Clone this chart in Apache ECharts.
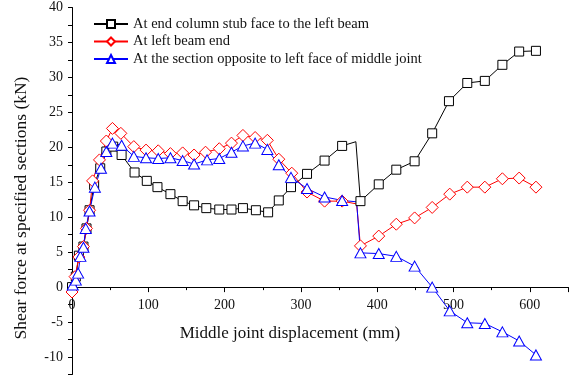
<!DOCTYPE html>
<html>
<head>
<meta charset="utf-8">
<script src="https://cdn.jsdelivr.net/npm/echarts@6/dist/echarts.min.js"></script>
<style>
  html, body { margin: 0; padding: 0; background: #fff; }
  #chart { width: 569px; height: 375px; }
</style>
</head>
<body>
<div id="chart"></div>
<script>
// series names
var names = [
  'At end column stub face to the left beam',
  'At left beam end',
  'At the section opposite to left face of middle joint'
];

// black squares
var xBlack = [0, 5, 9, 15, 19, 23, 29, 37, 45, 54, 65, 82, 98, 112, 129, 145, 160, 176, 193, 209, 224, 241, 257, 271, 287, 308, 331, 354, 372, 378, 402, 425, 449, 472, 494, 518, 541, 564, 586, 608];
var yBlack = [0, 1.5, 4.5, 5.8, 8.4, 11, 14.6, 17, 19.4, 20.1, 18.9, 16.4, 15.2, 14.3, 13.3, 12.3, 11.7, 11.3, 11.1, 11.1, 11.3, 11.0, 10.7, 12.4, 14.3, 16.2, 18.1, 20.2, 20.8, 12.3, 14.7, 16.8, 18.0, 22.0, 26.6, 29.2, 29.5, 31.8, 33.7, 33.8];
var cornerBlack = [372];

// red diamonds
var xRed = [0, 4, 9, 15, 19, 23, 27, 36, 45, 53, 64, 81, 97, 113, 129, 145, 160, 175, 193, 209, 224, 240, 256, 271, 288, 308, 331, 354, 373, 378, 402, 425, 449, 472, 495, 518, 541, 564, 586, 608];
var yRed = [-0.7, 1.5, 4.3, 5.8, 8.4, 11, 15.2, 18.2, 20.9, 22.7, 22, 20.1, 19.6, 19.5, 19.1, 19.2, 18.9, 19.3, 19.8, 20.6, 21.7, 21.4, 21, 18.3, 16.3, 13.6, 12.3, 12.3, 11.9, 5.9, 7.3, 9, 9.9, 11.4, 13.3, 14.3, 14.3, 15.5, 15.6, 14.3];
var cornerRed = [373];

// blue triangles
var xBlue = [0, 1, 5, 8, 11, 15, 18, 23, 30, 38, 45, 53, 65, 81, 97, 113, 129, 145, 160, 177, 193, 209, 224, 240, 256, 271, 287, 308, 331, 354, 373, 378, 402, 425, 449, 472, 495, 518, 541, 564, 586, 608];
var yBlue = [0, 0.3, 1, 2, 4.4, 5.7, 8.4, 10.9, 14.3, 17, 19.4, 20.6, 20.3, 18.7, 18.5, 18.4, 18.5, 18.1, 17.6, 18.2, 18.4, 19.3, 20.2, 20.6, 19.7, 17.5, 15.7, 14.1, 12.9, 12.4, 12.2, 4.9, 4.8, 4.4, 3.0, 0, -3.4, -5.1, -5.2, -6.4, -7.7, -9.7];
var cornerBlue = [0, 373];

function pairs(xs, ys, corners) {
  return xs.map(function (x, i) {
    var item = { value: [x, ys[i]] };
    if (corners.indexOf(x) >= 0) item.symbol = 'none';
    return item;
  });
}

var font = 'Liberation Serif';
var chart = echarts.init(document.getElementById('chart'));

// grid: y from -12.5 (bottom) to 40 (top); x axis drawn at y = 0
var gridTop = 7.5, gridBottom = 0.5, yMin = -12.5, yMax = 40;
var plotH = 375 - gridTop - gridBottom;
var zeroOffset = -plotH * (0 - yMin) / (yMax - yMin);

var option = {
  animation: false,
  textStyle: { fontFamily: font },
  grid: { left: 72, right: 1, top: gridTop, bottom: gridBottom, containLabel: false, outerBoundsMode: 'none' },
  legend: {
    orient: 'vertical',
    left: 93,
    top: 16.5,
    padding: 0,
    itemWidth: 34,
    itemHeight: 10,
    itemGap: 2.5,
    textStyle: { fontFamily: font, fontSize: 14.5, color: '#111' },
    data: names
  },
  xAxis: {
    type: 'value',
    position: 'bottom',
    offset: zeroOffset,
    min: 0,
    max: 650,
    interval: 100,
    name: 'Middle joint displacement (mm)',
    nameLocation: 'middle',
    nameGap: 38,
    nameTextStyle: { fontFamily: font, fontSize: 17, color: '#111', padding: [0, 60, 0, 0] },
    axisLine: { onZero: false, lineStyle: { color: '#000', width: 1 } },
    axisTick: { inside: false, length: 5, lineStyle: { color: '#000' } },
    minorTick: { show: true, splitNumber: 2, length: 3, lineStyle: { color: '#000' } },
    axisLabel: { fontFamily: font, fontSize: 14, color: '#111', margin: 11, showMaxLabel: false },
    splitLine: { show: false }
  },
  yAxis: {
    type: 'value',
    min: yMin,
    max: yMax,
    interval: 2.5,
    name: 'Shear force at specified sections (kN)',
    nameLocation: 'middle',
    nameGap: 42,
    nameTextStyle: { fontFamily: font, fontSize: 17.5, color: '#111', padding: [0, 34, 0, 0] },
    axisLine: { onZero: false, lineStyle: { color: '#000', width: 1 } },
    axisTick: { inside: false, length: 4, lineStyle: { color: '#000' } },
    axisLabel: {
      fontFamily: font, fontSize: 14, color: '#111', margin: 9,
      formatter: function (v) { return v % 5 === 0 ? String(v) : ''; }
    },
    splitLine: { show: false }
  },
  series: [
    {
      name: names[0],
      type: 'line',
      data: pairs(xBlack, yBlack, cornerBlack),
      symbol: 'rect',
      symbolSize: 9,
      lineStyle: { color: '#000', width: 1 },
      itemStyle: { color: '#fff', borderColor: '#000', borderWidth: 1 }
    },
    {
      name: names[1],
      type: 'line',
      data: pairs(xRed, yRed, cornerRed),
      symbol: 'diamond',
      symbolSize: 12,
      lineStyle: { color: '#ff0000', width: 1 },
      itemStyle: { color: '#fff', borderColor: '#ff0000', borderWidth: 1 }
    },
    {
      name: names[2],
      type: 'line',
      data: pairs(xBlue, yBlue, cornerBlue),
      symbol: 'triangle',
      symbolSize: [11, 10],
      lineStyle: { color: '#0000ff', width: 1 },
      itemStyle: { color: '#fff', borderColor: '#0000ff', borderWidth: 1 }
    }
  ]
};

chart.setOption(option);
</script>
</body>
</html>
